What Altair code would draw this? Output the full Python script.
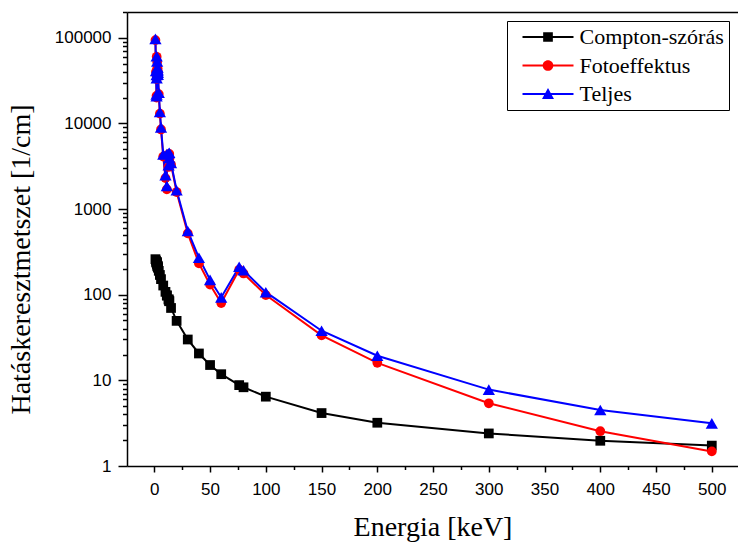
import altair as alt
import pandas as pd

# Energy grid [keV] (edge energies appear twice: below / above the edge)
energy = [1, 1.5, 2, 2.04, 2.04, 2.116, 2.116, 2.551, 2.551, 2.909, 2.909, 3,
          3.174, 3.174, 4, 5, 6, 8, 10, 11.22, 11.22, 12.82, 12.82, 13.42, 13.42,
          15, 20, 30, 40, 50, 60, 76.11, 80, 100, 150, 200, 300, 400, 500]

compton = [260, 250, 240, 239, 239, 237, 237, 226, 226, 216, 216, 213,
           208, 208, 190, 170, 152, 128, 108, 98, 98, 88, 88, 84, 84,
           70, 49.5, 30, 20.6, 15.1, 11.8, 8.8, 8.3, 6.45, 4.15, 3.2, 2.4, 1.97, 1.73]

foto = [94000, 40000, 21000, 20000, 36000, 33000, 60000, 43000, 52000, 40000, 44000, 41000,
        36000, 38000, 22000, 13000, 8500, 4100, 2300, 1700, 4200, 3100, 4300, 3800, 4400,
        3300, 1580, 520, 232, 131, 80, 196, 177, 99, 33.5, 16, 5.4, 2.55, 1.48]

teljes = [97000, 41000, 21800, 20800, 36800, 33800, 61000, 44000, 53000, 41000, 45000, 42000,
          37000, 39000, 22800, 13600, 9000, 4350, 2480, 1860, 4400, 3250, 4450, 3950, 4550,
          3450, 1660, 555, 270, 149, 93, 212, 193, 107, 38, 19.4, 7.8, 4.5, 3.15]

series_names = ["Compton-szórás", "Fotoeffektus", "Teljes"]
series_colors = ["black", "red", "blue"]

x_major = [0, 50, 100, 150, 200, 250, 300, 350, 400, 450, 500]
x_minor = [25, 75, 125, 175, 225, 275, 325, 375, 425, 475]
y_major = [1, 10, 100, 1000, 10000, 100000]
y_minor = [m * 10 ** k for k in range(5) for m in range(2, 10)] + [200000]

rows = []
for name, vals in zip(series_names, [compton, foto, teljes]):
    for i, (e, v) in enumerate(zip(energy, vals)):
        rows.append({"series": name, "energy": e, "value": v, "idx": i})
df = pd.DataFrame(rows)

xscale = alt.Scale(domain=[-24.5, 523.5], nice=False, zero=False)
yscale = alt.Scale(type="log", domain=[1, 200000], nice=False)
color_scale = alt.Scale(domain=series_names, range=series_colors)

# legend symbols: line segment with marker (custom paths in a -1..1 box)
p_sq = "M-1,-0.04H1V0.04H-1Z M-0.19,-0.19H0.19V0.19H-0.19Z"
p_ci = "M-1,-0.04H1V0.04H-1Z M0.21,0A0.21,0.21 0 1,1 -0.21,0A0.21,0.21 0 1,1 0.21,0Z"
p_tr = "M-1,-0.04H1V0.04H-1Z M0,-0.24L0.235,0.2H-0.235Z"
shape_expr = f"datum.index === 0 ? '{p_sq}' : datum.index === 1 ? '{p_ci}' : '{p_tr}'"
fill_expr = "datum.index === 0 ? 'black' : datum.index === 1 ? 'red' : 'blue'"

LABEL_FONT = "Liberation Sans"
TITLE_FONT = "Liberation Serif"

legend = alt.Legend(
    title=None, orient="none", legendX=380, legendY=9,
    labelFont=TITLE_FONT, labelFontSize=22, labelColor="black", labelLimit=300,
    symbolSize=2601, clipHeight=22, rowPadding=6.5, padding=5,
    symbolOffset=10.5, labelOffset=6, strokeColor="black",
    symbolType={"expr": shape_expr},
    symbolFillColor={"expr": fill_expr},
    symbolStrokeColor="transparent",
    symbolStrokeWidth=0,
    symbolOpacity=1,
)

axis_style = dict(
    domainColor="black", tickColor="black", labelColor="black", titleColor="black",
    domainWidth=1.5, tickWidth=1.5, grid=False,
    labelFont=LABEL_FONT, labelFontSize=17,
    titleFont=TITLE_FONT, titleFontSize=28, titleFontWeight="normal",
)

base = alt.Chart(df)

lines = base.mark_line(strokeWidth=2).encode(
    x=alt.X("energy:Q", scale=xscale,
            axis=alt.Axis(orient="bottom", values=x_major, format="d", title="Energia [keV]",
                          tickSize=6, labelPadding=9, titlePadding=16, **axis_style)),
    y=alt.Y("value:Q", scale=yscale,
            axis=alt.Axis(orient="left", values=y_major, format="d",
                          title="Hatáskeresztmetszet [1/cm]", titleY=247,
                          tickSize=9, labelPadding=7, titlePadding=19, **axis_style)),
    color=alt.Color("series:N", scale=color_scale, legend=legend),
    order=alt.Order("idx:Q"),
)

pts_c = base.transform_filter(alt.datum.series == series_names[0]).mark_point(
    shape="square", filled=True, size=95, color="black", opacity=1
).encode(
    x=alt.X("energy:Q", scale=xscale,
            axis=alt.Axis(orient="bottom", values=x_minor, labels=False, domain=False,
                          tickSize=3.5, title=None, tickColor="black", tickWidth=1.5)),
    y=alt.Y("value:Q", scale=yscale,
            axis=alt.Axis(orient="left", values=y_minor, labels=False, domain=False,
                          tickSize=4.5, title=None, tickColor="black", tickWidth=1.5)),
)

pts_f = base.transform_filter(alt.datum.series == series_names[1]).mark_point(
    shape="circle", filled=True, size=95, color="red", opacity=1
).encode(
    x=alt.X("energy:Q", scale=xscale,
            axis=alt.Axis(orient="top", ticks=False, labels=False, domain=True, title=None,
                          domainColor="black", domainWidth=1.5)),
    y=alt.Y("value:Q", scale=yscale, axis=None),
)

pts_t = base.transform_filter(alt.datum.series == series_names[2]).mark_point(
    shape="triangle-up", filled=True, size=150, color="blue", opacity=1
).encode(
    x=alt.X("energy:Q", scale=xscale, axis=None),
    y=alt.Y("value:Q", scale=yscale, axis=None),
)

chart = alt.layer(lines, pts_c, pts_f, pts_t).resolve_axis(
    x="independent", y="independent"
).properties(
    width=611, height=454,
    autosize=alt.AutoSizeParams(type="none"),
    padding={"left": 127, "top": 12, "right": 0, "bottom": 76},
    background="white",
).configure_axis(
    grid=False,
).configure_legend(
    labelFont=TITLE_FONT, labelFontSize=22, labelColor="black", labelLimit=300,
).configure_view(stroke=None)

chart.save("out.html", embed_options={"renderer": "svg", "actions": False})
